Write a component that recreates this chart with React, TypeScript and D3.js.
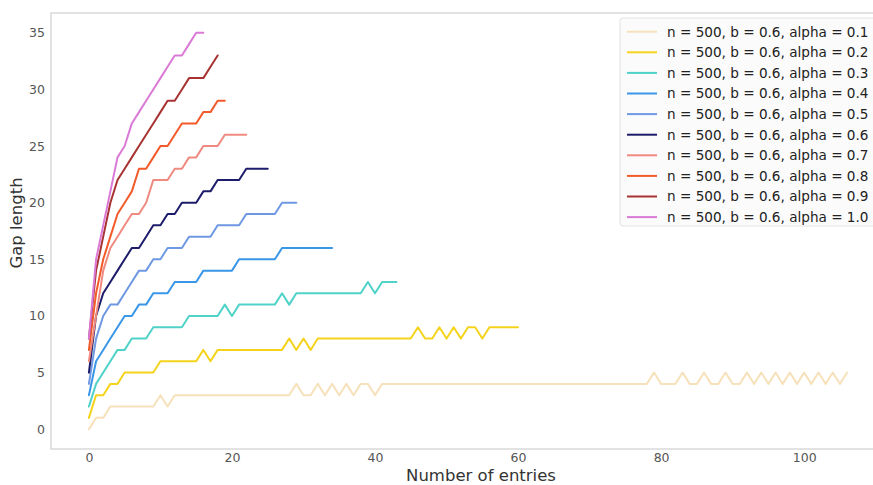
import React, { useEffect, useRef } from 'react';
import * as d3 from 'd3';

// gap length per number of entries (index = entries)
const gap01 = [
  0, 1, 1, 2, 2, 2, 2, 2, 2, 2,
  3, 2, 3, 3, 3, 3, 3, 3, 3, 3,
  3, 3, 3, 3, 3, 3, 3, 3, 3, 4,
  3, 3, 4, 3, 4, 3, 4, 3, 4, 4,
  3, 4, 4, 4, 4, 4, 4, 4, 4, 4,
  4, 4, 4, 4, 4, 4, 4, 4, 4, 4,
  4, 4, 4, 4, 4, 4, 4, 4, 4, 4,
  4, 4, 4, 4, 4, 4, 4, 4, 4, 5,
  4, 4, 4, 5, 4, 4, 5, 4, 4, 5,
  4, 4, 5, 4, 5, 4, 5, 4, 5, 4,
  5, 4, 5, 4, 5, 4, 5,
];
const gap02 = [
  1, 3, 3, 4, 4, 5, 5, 5, 5, 5,
  6, 6, 6, 6, 6, 6, 7, 6, 7, 7,
  7, 7, 7, 7, 7, 7, 7, 7, 8, 7,
  8, 7, 8, 8, 8, 8, 8, 8, 8, 8,
  8, 8, 8, 8, 8, 8, 9, 8, 8, 9,
  8, 9, 8, 9, 9, 8, 9, 9, 9, 9,
  9,
];
const gap03 = [
  2, 4, 5, 6, 7, 7, 8, 8, 8, 9,
  9, 9, 9, 9, 10, 10, 10, 10, 10, 11,
  10, 11, 11, 11, 11, 11, 11, 12, 11, 12,
  12, 12, 12, 12, 12, 12, 12, 12, 12, 13,
  12, 13, 13, 13,
];
const gap04 = [
  3, 6, 7, 8, 9, 10, 10, 11, 11, 12,
  12, 12, 13, 13, 13, 13, 14, 14, 14, 14,
  14, 15, 15, 15, 15, 15, 15, 16, 16, 16,
  16, 16, 16, 16, 16,
];
const gap05 = [
  4, 8, 10, 11, 11, 12, 13, 14, 14, 15,
  15, 16, 16, 16, 17, 17, 17, 17, 18, 18,
  18, 18, 19, 19, 19, 19, 19, 20, 20, 20,
];
const gap06 = [
  5, 10, 12, 13, 14, 15, 16, 16, 17, 18,
  18, 19, 19, 20, 20, 20, 21, 21, 22, 22,
  22, 22, 23, 23, 23, 23,
];
const gap07 = [
  6, 10, 14, 16, 17, 18, 19, 19, 20, 22,
  22, 22, 23, 23, 24, 24, 25, 25, 25, 26,
  26, 26, 26,
];
const gap08 = [
  7, 12, 15, 17, 19, 20, 21, 23, 23, 24,
  25, 25, 26, 27, 27, 27, 28, 28, 29, 29,
];
const gap09 = [
  8, 14, 17, 20, 22, 23, 24, 25, 26, 27,
  28, 29, 29, 30, 31, 31, 31, 32, 33,
];
const gap10 = [
  8, 15, 18, 21, 24, 25, 27, 28, 29, 30,
  31, 32, 33, 33, 34, 35, 35,
];

const allGaps = [gap01, gap02, gap03, gap04, gap05, gap06, gap07, gap08, gap09, gap10];
const alphas = ['0.1', '0.2', '0.3', '0.4', '0.5', '0.6', '0.7', '0.8', '0.9', '1.0'];
const colors = [
  '#f7e1bb', '#f5d31c', '#4fd2c8', '#3a96e6', '#6f98e3',
  '#1c1c6a', '#ef8a80', '#f35a2a', '#a83232', '#da7ad6',
];

const xTicks = [0, 20, 40, 60, 80, 100];
const yTicks = [0, 5, 10, 15, 20, 25, 30, 35];

const W = 873;
const H = 485;
const FONT = 'DejaVu Sans, sans-serif';

const App = () => {
  const ref = useRef<SVGSVGElement>(null);

  useEffect(() => {
    const svg = d3.select(ref.current);
    svg.selectAll('*').remove();

    // matplotlib-like 5% padding around the data
    const x = d3.scaleLinear().domain([-5.3, 111.3]).range([51, 885]);
    const y = d3.scaleLinear().domain([-1.75, 36.75]).range([449, 13]);

    svg.append('rect')
      .attr('width', W).attr('height', H).attr('fill', '#fff');

    // frame
    svg.append('rect')
      .attr('x', x(-5.3)).attr('y', y(36.75))
      .attr('width', x(111.3) - x(-5.3)).attr('height', y(-1.75) - y(36.75))
      .attr('fill', 'none').attr('stroke', '#cfcfcf').attr('stroke-width', 1.2);

    // ticks
    const xAxis = svg.append('g')
      .attr('transform', `translate(0,${y(-1.75)})`)
      .call(d3.axisBottom(x).tickValues(xTicks).tickSize(0).tickPadding(4));
    xAxis.select('.domain').remove();
    xAxis.selectAll('text')
      .attr('font-family', FONT).attr('font-size', 12.5).attr('fill', '#555');

    const yAxis = svg.append('g')
      .attr('transform', `translate(${x(-5.3)},0)`)
      .call(d3.axisLeft(y).tickValues(yTicks).tickSize(0).tickPadding(6));
    yAxis.select('.domain').remove();
    yAxis.selectAll('text')
      .attr('font-family', FONT).attr('font-size', 12.5).attr('fill', '#555');

    // axis labels
    svg.append('text')
      .attr('x', 481).attr('y', 481)
      .attr('text-anchor', 'middle')
      .attr('font-family', FONT).attr('font-size', 16.5).attr('fill', '#333')
      .text('Number of entries');
    svg.append('text')
      .attr('transform', 'translate(22,223) rotate(-90)')
      .attr('text-anchor', 'middle')
      .attr('font-family', FONT).attr('font-size', 16.5).attr('fill', '#333')
      .text('Gap length');

    // lines
    const line = d3.line<number>()
      .x((_, i) => x(i))
      .y(d => y(d));

    svg.append('g')
      .selectAll('path')
      .data(allGaps)
      .join('path')
      .attr('d', d => line(d))
      .attr('fill', 'none')
      .attr('stroke', (_, i) => colors[i])
      .attr('stroke-width', 2)
      .attr('stroke-linejoin', 'round')
      .attr('stroke-linecap', 'round');

    // legend
    const lg = svg.append('g');
    lg.append('rect')
      .attr('x', 620).attr('y', 18).attr('width', 270).attr('height', 208)
      .attr('rx', 3)
      .attr('fill', '#fbfbfb').attr('stroke', '#e2e2e2');
    const rows = lg.selectAll('g.row')
      .data(alphas)
      .join('g')
      .attr('class', 'row')
      .attr('transform', (_, i) => `translate(0,${31.7 + i * 20.6})`);
    rows.append('line')
      .attr('x1', 627).attr('x2', 657)
      .attr('stroke', (_, i) => colors[i]).attr('stroke-width', 2);
    rows.append('text')
      .attr('x', 667).attr('y', 4.8)
      .attr('font-family', FONT).attr('font-size', 13.6).attr('fill', '#222')
      .text(d => `n = 500, b = 0.6, alpha = ${d}`);
  }, []);

  return (
    <div style={{ position: 'absolute', left: 0, top: 0 }}>
      <svg ref={ref} width={W} height={H} />
    </div>
  );
};

export default App;
